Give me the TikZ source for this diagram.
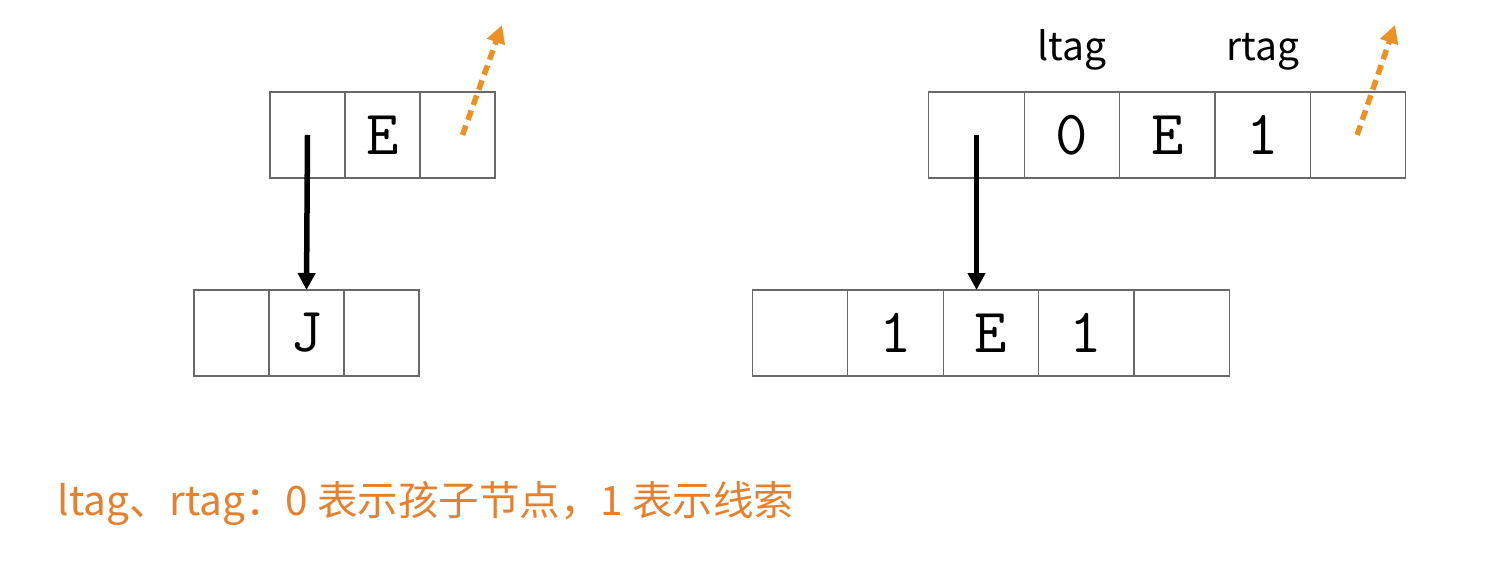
\documentclass[tikz,border=0pt]{standalone}
\usepackage{fontspec}
\setmainfont{Liberation Sans}
\newfontfamily\cjkfont{Noto Sans CJK SC}
\usetikzlibrary{arrows.meta,positioning}
\definecolor{tagorange}{RGB}{230,128,45}
\definecolor{threadorange}{RGB}{238,145,35}
\definecolor{cellgray}{RGB}{105,105,105}
\tikzset{
  cell/.style={draw=cellgray,line width=1.2pt,outer sep=0pt,inner sep=0pt,
    minimum width=75pt,minimum height=86pt,font=\ttfamily\fontsize{63}{63}\selectfont},
  widecell/.style={cell,minimum width=95.4pt},
  child/.style={line width=5.5pt,-{Triangle[length=17pt,width=17pt]}},
  thread/.style={threadorange,line width=5.5pt,dash pattern=on 10pt off 6pt,
    -{Triangle[length=18pt,width=18pt]}},
  taglabel/.style={font=\cjkfont\fontsize{39}{39}\selectfont}
}
\begin{document}
\begin{tikzpicture}[x=1pt,y=-1pt]
\useasboundingbox (0,0) rectangle (1506,561);
% left: plain node
\node[cell] (l1) at (307.5,135) {};
\node[cell,right=0pt of l1] (l2) {E};
\node[cell,right=0pt of l2] (l3) {};
\node[cell] (j1) at (231.5,333) {};
\node[cell,right=0pt of j1] (j2) {J};
\node[cell,right=0pt of j2] (j3) {};
\draw[child] (l1.center) -- (j2.north);
\coordinate (lfree) at (502,25);
\draw[thread] ([xshift=5pt]l3.center) -- (lfree);
% right: threaded node
\node[widecell] (r1) at (976.5,135) {};
\node[widecell,right=0pt of r1] (r2) {0};
\node[widecell,right=0pt of r2] (r3) {E};
\node[widecell,right=0pt of r3] (r4) {1};
\node[widecell,right=0pt of r4] (r5) {};
\node[widecell] (s1) at (800,333) {};
\node[widecell,right=0pt of s1] (s2) {1};
\node[widecell,right=0pt of s2] (s3) {E};
\node[widecell,right=0pt of s3] (s4) {1};
\node[widecell,right=0pt of s4] (s5) {};
\node[taglabel,above=18pt of r2] (ltag) {ltag};
\node[taglabel,above=18pt of r4] (rtag) {rtag};
\draw[child] (r1.center) -- (r1.center |- s3.north);
\coordinate (rfree) at (1395,25);
\draw[thread] ([xshift=-1pt]r5.center) -- (rfree);
\node[anchor=west,text=tagorange,font=\cjkfont\fontsize{40.5}{40.5}\selectfont] (note) at (54,503)
  {ltag、rtag：0 表示孩子节点，1 表示线索};
\end{tikzpicture}
\end{document}
